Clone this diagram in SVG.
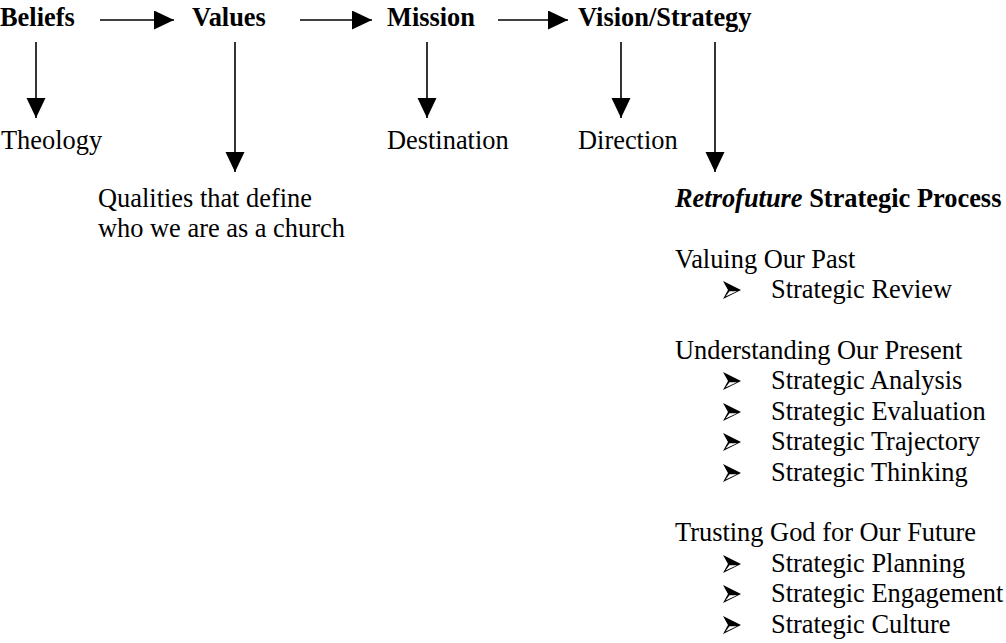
<svg xmlns="http://www.w3.org/2000/svg" width="1006" height="643" viewBox="0 0 1006 643">
<style>
text{font-family:"Liberation Serif","Times New Roman",serif;font-size:26.4px;fill:#000}
.b{font-weight:bold}
.i{font-style:italic}
.c line{stroke:#000;stroke-width:1.6}
</style>
<defs>
<marker id="ah" markerUnits="userSpaceOnUse" markerWidth="22" markerHeight="20" refX="20" refY="9.5" orient="auto">
<path d="M0,0 L20,9.5 L0,19 Z" fill="#000"/>
</marker>
<symbol id="bul" viewBox="0 0 18 18" width="18" height="18">
<path d="M0,0 L18,9 L0,18 L5,9 Z" fill="#000"/>
<path d="M6.5,10.2 L14,10.2 L2.6,15.6 Z" fill="#fff"/>
</symbol>
</defs>
<rect width="1006" height="643" fill="#fff"/>
<g class="c" id="connectors">
<line x1="100" y1="20" x2="174" y2="20" marker-end="url(#ah)"/>
<line x1="300" y1="20" x2="372" y2="20" marker-end="url(#ah)"/>
<line x1="498" y1="20" x2="568" y2="20" marker-end="url(#ah)"/>
<line x1="36" y1="42" x2="36" y2="118" marker-end="url(#ah)"/>
<line x1="235" y1="42" x2="235" y2="172" marker-end="url(#ah)"/>
<line x1="427" y1="42" x2="427" y2="118" marker-end="url(#ah)"/>
<line x1="621" y1="42" x2="621" y2="118" marker-end="url(#ah)"/>
<line x1="715" y1="42" x2="715" y2="172" marker-end="url(#ah)"/>
</g>
<g id="beliefs"><text class="b" x="0" y="26">Beliefs</text></g>
<g id="values"><text class="b" x="192" y="26">Values</text></g>
<g id="mission"><text class="b" x="387" y="26">Mission</text></g>
<g id="vision"><text class="b" x="578" y="26">Vision/Strategy</text></g>
<g id="theology"><text x="1" y="149">Theology</text></g>
<g id="qualities"><text x="98" y="207">Qualities that define</text><text x="98" y="237">who we are as a church</text></g>
<g id="destination"><text x="387" y="149">Destination</text></g>
<g id="direction"><text x="578" y="149">Direction</text></g>
<g id="process">
<text class="b" x="675" y="207"><tspan class="i">Retrofuture</tspan> Strategic Process</text>
<text x="675" y="268">Valuing Our Past</text>
<use href="#bul" x="723" y="281"/><text x="771" y="298">Strategic Review</text>
<text x="675" y="359">Understanding Our Present</text>
<use href="#bul" x="723" y="372"/><text x="771" y="389">Strategic Analysis</text>
<use href="#bul" x="723" y="403"/><text x="771" y="420">Strategic Evaluation</text>
<use href="#bul" x="723" y="433"/><text x="771" y="450">Strategic Trajectory</text>
<use href="#bul" x="723" y="464"/><text x="771" y="481">Strategic Thinking</text>
<text x="675" y="541">Trusting God for Our Future</text>
<use href="#bul" x="723" y="555"/><text x="771" y="572">Strategic Planning</text>
<use href="#bul" x="723" y="585"/><text x="771" y="602">Strategic Engagement</text>
<use href="#bul" x="723" y="616"/><text x="771" y="633">Strategic Culture</text>
</g>
</svg>
